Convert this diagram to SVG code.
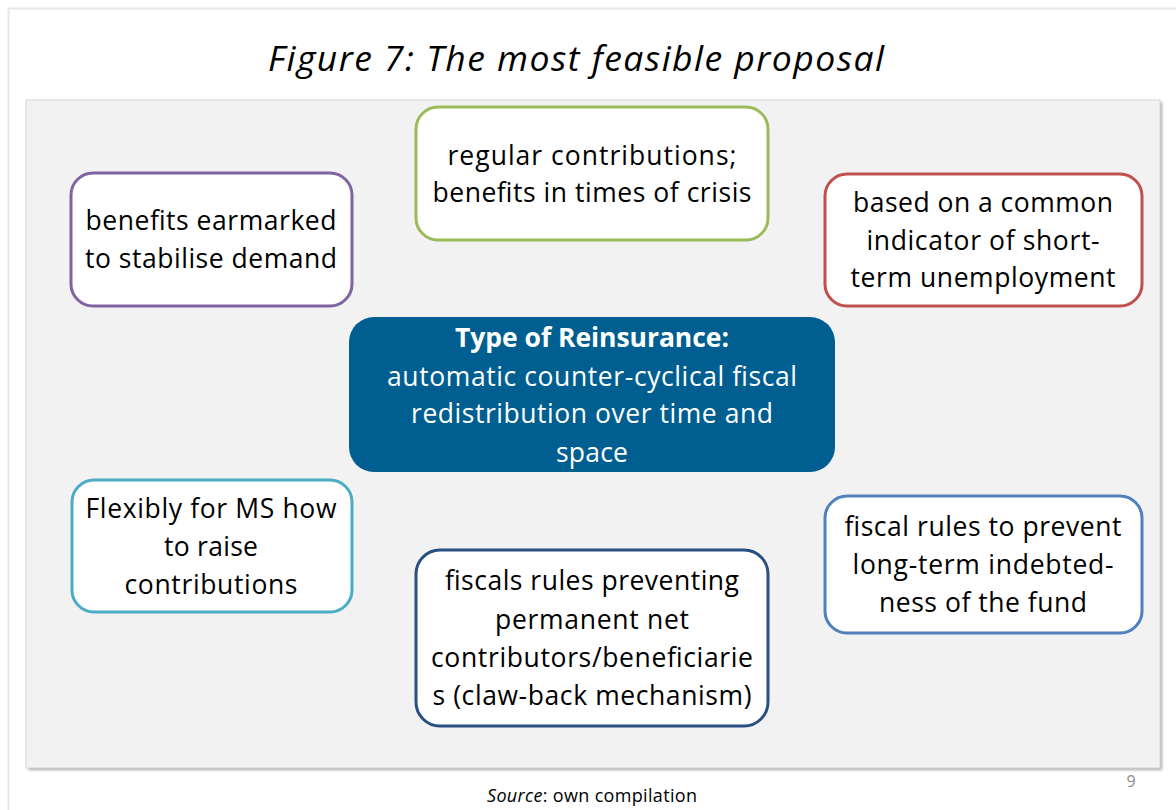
<svg xmlns="http://www.w3.org/2000/svg" width="1176" height="810" viewBox="0 0 1176 810">
<defs>
<filter id="sh" x="-5%" y="-5%" width="110%" height="110%">
<feGaussianBlur stdDeviation="1.5"/>
</filter>
</defs>
<style>
.t{font-family:"Open Sans","Noto Sans",sans-serif;font-size:26.5px;fill:#000;text-anchor:middle}
.w{fill:#fff}
.b{font-weight:bold}
.box{fill:#fff;stroke-width:3}
</style>
<rect x="0" y="0" width="1176" height="810" fill="#fff"/>
<rect x="8.5" y="8.5" width="1200" height="840" fill="none" stroke="#e8e8e8" stroke-width="2"/>
<text x="576" y="71" font-family="'Open Sans','Noto Sans',sans-serif" font-style="italic" font-size="35.5" text-anchor="middle" textLength="616" fill="#000">Figure 7: The most feasible proposal</text>
<g id="panel">
<rect x="28" y="102" width="1134" height="668" fill="#a8a8a8" filter="url(#sh)"/>
<rect x="26" y="100" width="1134" height="668" fill="#f2f2f2" stroke="#d6d6d6" stroke-width="1"/>
</g>
<g id="connectors"></g>
<g id="n-top">
<rect class="box" x="416" y="107" width="352" height="133" rx="22" stroke="#9bbb59"/>
<text class="t" x="592" y="165" textLength="289">regular contributions;</text>
<text class="t" x="592" y="202" textLength="319">benefits in times of crisis</text>
</g>
<g id="n-purple">
<rect class="box" x="71" y="173" width="281" height="133" rx="22" stroke="#8064a2"/>
<text class="t" x="211" y="230" textLength="251">benefits earmarked</text>
<text class="t" x="211" y="268" textLength="252">to stabilise demand</text>
</g>
<g id="n-red">
<rect class="box" x="825" y="174" width="317" height="132" rx="22" stroke="#c0504d"/>
<text class="t" x="983" y="212" textLength="260">based on a common</text>
<text class="t" x="983" y="250" textLength="233">indicator of short-</text>
<text class="t" x="983" y="287" textLength="265">term unemployment</text>
</g>
<g id="n-center">
<rect x="349" y="317" width="486" height="155" rx="25" fill="#005f90"/>
<text class="t w b" x="592" y="347" textLength="274">Type of Reinsurance:</text>
<text class="t w" x="592" y="386" textLength="410">automatic counter-cyclical fiscal</text>
<text class="t w" x="592" y="423" textLength="362">redistribution over time and</text>
<text class="t w" x="592" y="462" textLength="72">space</text>
</g>
<g id="n-cyan">
<rect class="box" x="72" y="480" width="280" height="132" rx="22" stroke="#4bacc6"/>
<text class="t" x="211" y="518" textLength="251">Flexibly for MS how</text>
<text class="t" x="211" y="556" textLength="94">to raise</text>
<text class="t" x="211" y="594" textLength="173">contributions</text>
</g>
<g id="n-blue">
<rect class="box" x="825" y="496" width="317" height="137" rx="22" stroke="#4f81bd"/>
<text class="t" x="983" y="536" textLength="277">fiscal rules to prevent</text>
<text class="t" x="983" y="574" textLength="261">long-term indebted-</text>
<text class="t" x="983" y="612" textLength="208">ness of the fund</text>
</g>
<g id="n-dark">
<rect class="box" x="416" y="550" width="352" height="176" rx="24" stroke="#2a4f80"/>
<text class="t" x="592" y="590" textLength="294">fiscals rules preventing</text>
<text class="t" x="592" y="629" textLength="194">permanent net</text>
<text class="t" x="592" y="667" textLength="322">contributors/beneficiarie</text>
<text class="t" x="592" y="705" textLength="319">s (claw-back mechanism)</text>
</g>
<text x="1131" y="787" font-family="'Open Sans','Noto Sans',sans-serif" font-size="16" fill="#8c8c8c" text-anchor="middle">9</text>
<text x="487" y="802" font-family="'Open Sans','Noto Sans',sans-serif" font-size="18" fill="#000" textLength="210"><tspan font-style="italic">Source</tspan>: own compilation</text>
</svg>
